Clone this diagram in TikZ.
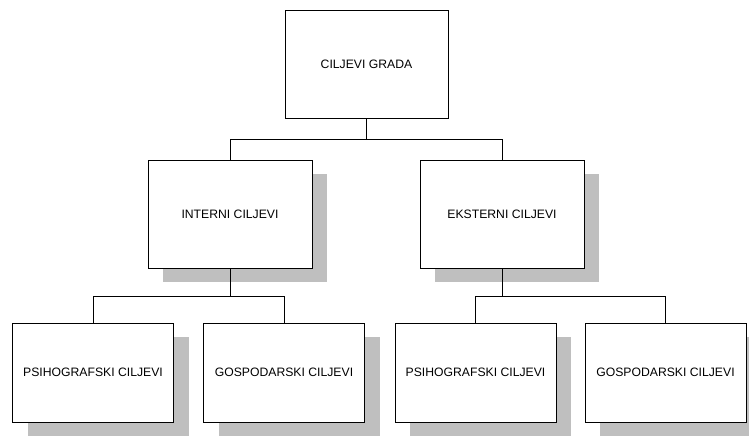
\documentclass[tikz,border=0pt]{standalone}
\usepackage{fontspec}
\setmainfont{Liberation Sans}
\usetikzlibrary{positioning,shadows}

\begin{document}
\begin{tikzpicture}[
    x=1pt,
    y=-1pt,
    font=\fontsize{12.2}{14}\selectfont,
    okvir/.style={draw, line width=0.8pt, fill=white, rectangle, inner sep=0pt},
    cilj/.style={okvir,
        general shadow={fill=gray!50, shadow xshift=15pt, shadow yshift=-14pt}},
    glavni/.style={okvir, minimum width=163pt, minimum height=108pt},
    srednji/.style={cilj, minimum width=164pt, minimum height=108pt},
    donji/.style={cilj, minimum width=161pt, minimum height=99pt},
    veza/.style={line width=0.8pt}
]
    \useasboundingbox (0,0) rectangle (749,441);

    % Razina 1
    \node[glavni] (grad) at (366.5,64) {CILJEVI GRADA};

    % Razina 2
    \node[srednji] (interni) at (230,214) {INTERNI CILJEVI};
    \node[srednji] (eksterni) at (502,214) {EKSTERNI CILJEVI};

    % Razina 3
    \node[donji] (ipsiho) at (93,372.5) {PSIHOGRAFSKI CILJEVI};
    \node[donji] (igosp) at (284,372.5) {GOSPODARSKI CILJEVI};
    \node[donji] (epsiho) at (475.5,372.5) {PSIHOGRAFSKI CILJEVI};
    \node[donji] (egosp) at (665.5,372.5) {GOSPODARSKI CILJEVI};

    % Veze
    \draw[veza] (grad.south) -- ++(0,21) -| (interni.north);
    \draw[veza] (grad.south) ++(0,21) -| (eksterni.north);
    \draw[veza] (interni.south) -- ++(0,28) -| (ipsiho.north);
    \draw[veza] (interni.south) ++(0,28) -| (igosp.north);
    \draw[veza] (eksterni.south) -- ++(0,28) -| (epsiho.north);
    \draw[veza] (eksterni.south) ++(0,28) -| (egosp.north);

\end{tikzpicture}
\end{document}
